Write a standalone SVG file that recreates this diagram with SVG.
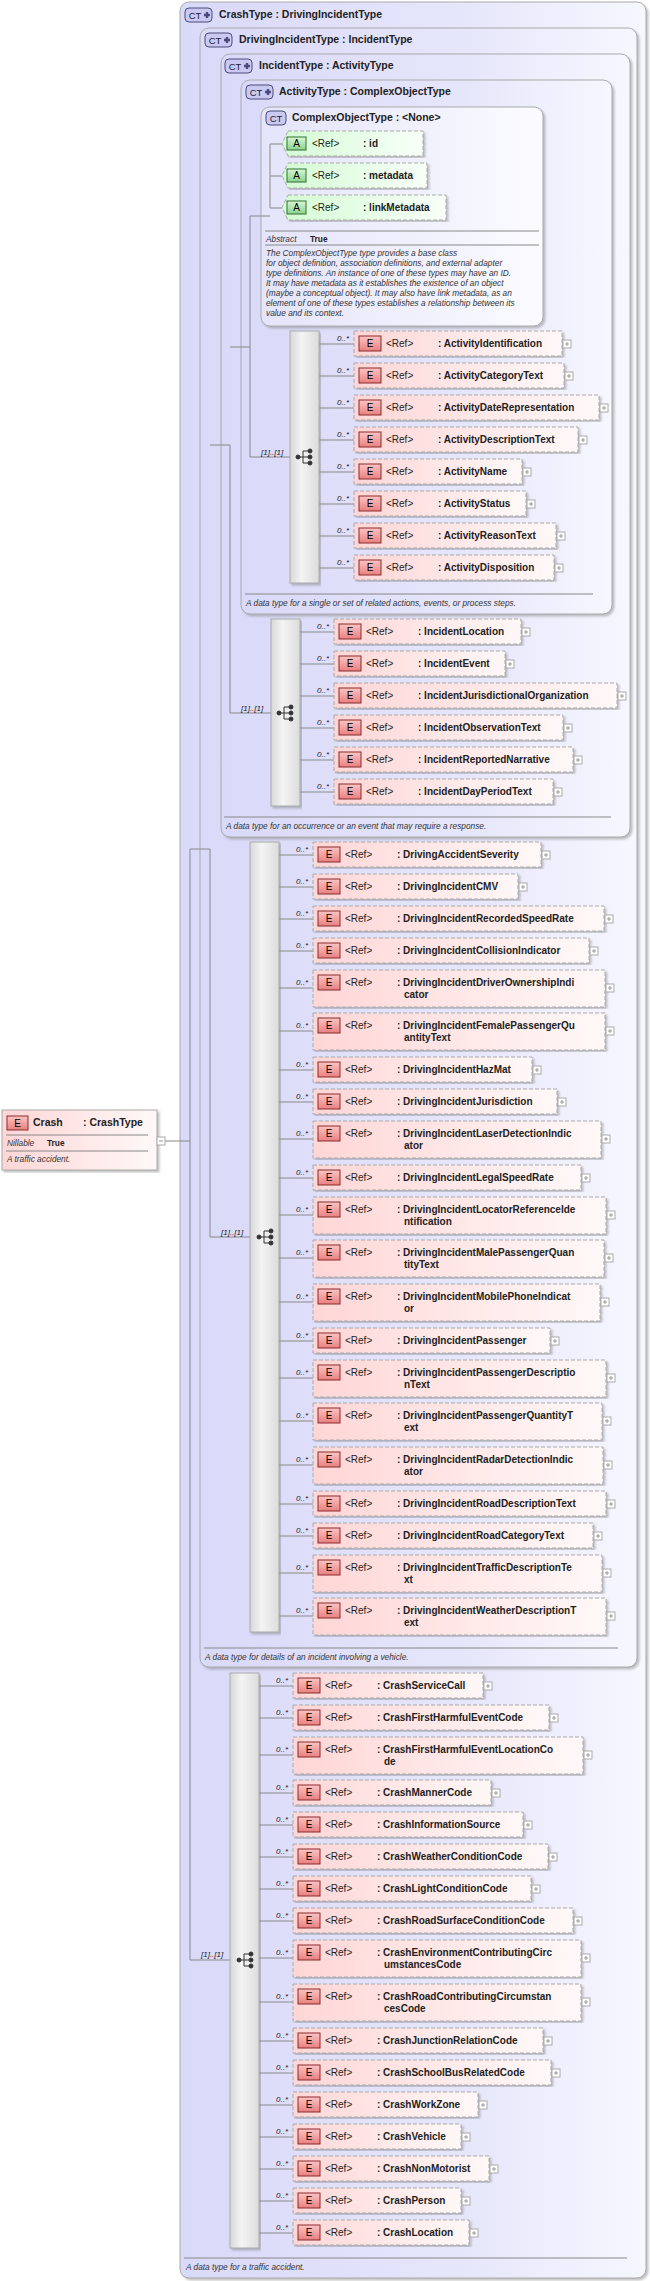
<svg xmlns="http://www.w3.org/2000/svg" width="650" height="2281" viewBox="0 0 650 2281">
<defs>
<style>
text{font-family:"Liberation Sans",Arial,sans-serif;fill:#222}
.ti{font-size:10.5px;font-weight:bold}
.r{font-size:10px}
.n{font-size:10px;font-weight:bold}
.m{font-size:8px;font-style:italic}
.d{font-size:8.3px;font-style:italic;fill:#333}
.el{font-size:10px;text-anchor:middle;fill:#000}
.cti{font-size:9.5px;text-anchor:middle;fill:#223}
.eb{fill:url(#pk);stroke:#aaa;stroke-dasharray:4,2;filter:url(#sh)}
.ab{fill:url(#gr);stroke:#aaa;stroke-dasharray:4,2;filter:url(#sh)}
.ei{fill:url(#eig);stroke:#8a2a2a}
.ai{fill:url(#aig);stroke:#2f6f2f}
.pb{fill:#fff;stroke:#aaa}
.ct{fill:#c9c9f2;stroke:#4a4a7a}
.bx{fill:url(#lv);stroke:#aaa;filter:url(#sh)}
.sq{fill:url(#sg);stroke:#aaa;filter:url(#sh)}
.ln{fill:none;stroke:#888;stroke-width:1}
.sep{stroke:#888;stroke-width:1}
</style>
<linearGradient id="lv" x1="0" x2="1" y1="0" y2="0"><stop offset="0" stop-color="#d9d9f9"/><stop offset="0.6" stop-color="#e6e6fb"/><stop offset="1" stop-color="#f7f7ff"/></linearGradient>
<linearGradient id="lv2" x1="0" x2="1" y1="0" y2="0"><stop offset="0" stop-color="#e4e4fb"/><stop offset="1" stop-color="#fbfbff"/></linearGradient>
<linearGradient id="pk" x1="0" x2="1" y1="0" y2="0"><stop offset="0" stop-color="#ffd6d6"/><stop offset="1" stop-color="#fff8f8"/></linearGradient>
<linearGradient id="gr" x1="0" x2="1" y1="0" y2="0"><stop offset="0" stop-color="#d4fcd4"/><stop offset="1" stop-color="#f8fff8"/></linearGradient>
<linearGradient id="eig" x1="0" x2="0" y1="0" y2="1"><stop offset="0" stop-color="#fbc4c4"/><stop offset="1" stop-color="#e88080"/></linearGradient>
<linearGradient id="aig" x1="0" x2="0" y1="0" y2="1"><stop offset="0" stop-color="#d8f8d8"/><stop offset="1" stop-color="#8fd08f"/></linearGradient>
<linearGradient id="sg" x1="0" x2="1" y1="0" y2="0"><stop offset="0" stop-color="#d8d8d8"/><stop offset="0.4" stop-color="#f4f4f4"/><stop offset="1" stop-color="#dcdcdc"/></linearGradient>
<filter id="sh" x="-5%" y="-5%" width="110%" height="110%"><feDropShadow dx="2" dy="2" stdDeviation="1" flood-color="#777" flood-opacity="0.45"/></filter>
<g id="seqi" fill="#333" stroke="#333" stroke-width="1"><circle cx="2" cy="0" r="2"/><path d="M2 0H7M7 -6V6M7 -6H13M7 0H13M7 6H13" fill="none"/><circle cx="14" cy="-6" r="2"/><circle cx="14" cy="0" r="2"/><circle cx="14" cy="6" r="2"/></g>
<g id="plus"><rect class="pb" x="0" y="0" width="8" height="8"/><path d="M2 4H6M4 2V6" stroke="#999" fill="none"/></g>
<g id="ctp"><rect class="ct" x="0" y="0" width="27" height="14" rx="4"/><text class="cti" x="10" y="11">CT</text><path d="M19 7H25M22 4V10" stroke="#4a4a7a" stroke-width="2.4"/></g>
</defs>
<rect width="650" height="2281" fill="#fff"/>

<g id="CrashType">
<rect class="bx" x="180" y="2" width="466" height="2276" rx="9"/>
<use href="#ctp" x="185" y="8"/>
<text class="ti" x="219" y="18">CrashType : DrivingIncidentType</text>
<line class="sep" x1="184" y1="2258" x2="627" y2="2258"/>
<text class="d" x="186" y="2270">A data type for a traffic accident.</text>
</g>
<g id="DrivingIncidentType">
<rect class="bx" x="200" y="28" width="437" height="1639" rx="9"/>
<use href="#ctp" x="205" y="33"/>
<text class="ti" x="239" y="43">DrivingIncidentType : IncidentType</text>
<line class="sep" x1="204" y1="1648" x2="618" y2="1648"/>
<text class="d" x="205" y="1660">A data type for details of an incident involving a vehicle.</text>
</g>
<g id="IncidentType">
<rect class="bx" x="221" y="54" width="409" height="783" rx="9"/>
<use href="#ctp" x="225" y="59"/>
<text class="ti" x="259" y="69">IncidentType : ActivityType</text>
<line class="sep" x1="224" y1="817" x2="611" y2="817"/>
<text class="d" x="226" y="829">A data type for an occurrence or an event that may require a response.</text>
</g>
<g id="ActivityType">
<rect class="bx" x="241" y="80" width="371" height="534" rx="9"/>
<use href="#ctp" x="246" y="85"/>
<text class="ti" x="279" y="95">ActivityType : ComplexObjectType</text>
<line class="sep" x1="245" y1="594" x2="593" y2="594"/>
<text class="d" x="246" y="606">A data type for a single or set of related actions, events, or process steps.</text>
</g>
<g id="ComplexObjectType">
<rect x="261" y="107" width="282" height="219" rx="9" fill="url(#lv2)" stroke="#aaa" filter="url(#sh)"/>
<rect class="ct" x="266" y="111" width="20" height="14" rx="4"/><text class="cti" x="276" y="122">CT</text>
<text class="ti" x="292" y="121">ComplexObjectType : &lt;None&gt;</text>
<line class="sep" x1="265" y1="231" x2="539" y2="231"/>
<text class="d" x="266" y="242">Abstract</text><text x="310" y="242" style="font-size:8.3px;font-weight:bold">True</text>
<line class="sep" x1="265" y1="245" x2="539" y2="245"/>
<text class="d" x="266" y="256">The ComplexObjectType type provides a base class</text>
<text class="d" x="266" y="266">for object definition, association definitions, and external adapter</text>
<text class="d" x="266" y="276">type definitions. An instance of one of these types may have an ID.</text>
<text class="d" x="266" y="286">It may have metadata as it establishes the existence of an object</text>
<text class="d" x="266" y="296">(maybe a conceptual object). It may also have link metadata, as an</text>
<text class="d" x="266" y="306">element of one of these types establishes a relationship between its</text>
<text class="d" x="266" y="316">value and its context.</text>
</g>
<g id="attr-id"><path class="ab" d="M288 131H423V156H288L282 143.5Z"/><rect class="ai" x="287" y="137" width="19" height="13"/><text class="el" x="296.5" y="147">A</text><text class="r" x="312" y="147">&lt;Ref&gt;</text><text class="n" x="363" y="147">: id</text></g>
<g id="attr-metadata"><path class="ab" d="M288 163H427V188H288L282 175.5Z"/><rect class="ai" x="287" y="169" width="19" height="13"/><text class="el" x="296.5" y="179">A</text><text class="r" x="312" y="179">&lt;Ref&gt;</text><text class="n" x="363" y="179">: metadata</text></g>
<g id="attr-linkMetadata"><path class="ab" d="M288 195H446V220H288L282 207.5Z"/><rect class="ai" x="287" y="201" width="19" height="13"/><text class="el" x="296.5" y="211">A</text><text class="r" x="312" y="211">&lt;Ref&gt;</text><text class="n" x="363" y="211">: linkMetadata</text></g>

<g id="connectors" class="ln">
<path class="ln" d="M165 1141H190M190 849V1960H230M190 849H210V1237H250M210 445H230V713H271M230 347H250M250 216V457H290M250 216H270M270 144V208M270 144H282M270 176H282M270 208H282"/>
<path class="ln" d="M319 344H354M319 376H354M319 408H354M319 440H354M319 472H354M319 504H354M319 536H354M319 568H354"/>
<path class="ln" d="M300 632H334M300 664H334M300 696H334M300 728H334M300 760H334M300 792H334"/>
<path class="ln" d="M279 855H313M279 887H313M279 919H313M279 951H313M279 988H313M279 1031H313M279 1070H313M279 1102H313M279 1139H313M279 1178H313M279 1215H313M279 1258H313M279 1302H313M279 1341H313M279 1378H313M279 1421H313M279 1465H313M279 1504H313M279 1536H313M279 1573H313M279 1616H313"/>
<path class="ln" d="M259 1686H293M259 1718H293M259 1755H293M259 1793H293M259 1825H293M259 1857H293M259 1889H293M259 1921H293M259 1958H293M259 2002H293M259 2041H293M259 2073H293M259 2105H293M259 2137H293M259 2169H293M259 2201H293M259 2233H293"/>
</g>

<g id="Crash">
<rect x="2" y="1110" width="155" height="60" fill="url(#pk)" stroke="#aaa" filter="url(#sh)"/>
<rect class="ei" x="7" y="1116" width="21" height="14"/><text class="el" x="17.5" y="1127">E</text>
<text class="n" x="33" y="1126" style="font-size:10.5px">Crash</text><text class="n" x="83" y="1126" style="font-size:10.5px">: CrashType</text>
<line class="sep" x1="6" y1="1135" x2="148" y2="1135"/>
<text class="d" x="7" y="1146">Nillable</text><text x="47" y="1146" style="font-size:8.3px;font-weight:bold">True</text>
<line class="sep" x1="6" y1="1151" x2="148" y2="1151"/>
<text class="d" x="7" y="1162">A traffic accident.</text>
<rect class="pb" x="157" y="1137" width="8" height="8"/><path d="M159 1141H163" stroke="#999"/>
</g>

<g id="seq-activity"><rect class="sq" x="290" y="331" width="29" height="252"/><use href="#seqi" x="296" y="457"/><text class="m" x="261" y="455">[1]..[1]</text></g>
<g id="seq-incident"><rect class="sq" x="271" y="619" width="29" height="187"/><use href="#seqi" x="277" y="713"/><text class="m" x="241" y="711">[1]..[1]</text></g>
<g id="seq-driving"><rect class="sq" x="250" y="842" width="29" height="790"/><use href="#seqi" x="257" y="1237"/><text class="m" x="221" y="1235">[1]..[1]</text></g>
<g id="seq-crash"><rect class="sq" x="230" y="1673" width="29" height="575"/><use href="#seqi" x="237" y="1960"/><text class="m" x="201" y="1957">[1]..[1]</text></g>

<!-- Activity elements -->
<g id="ActivityIdentification"><text class="m" x="337" y="341">0..*</text><rect class="eb" x="354" y="331" width="208" height="25"/><rect class="ei" x="359" y="336" width="22" height="15"/><text class="el" x="370" y="347">E</text><text class="r" x="386" y="347">&lt;Ref&gt;</text><text class="n" x="438" y="347">: ActivityIdentification</text><use href="#plus" x="563" y="340"/></g>
<g id="ActivityCategoryText"><text class="m" x="337" y="373">0..*</text><rect class="eb" x="354" y="363" width="210" height="25"/><rect class="ei" x="359" y="368" width="22" height="15"/><text class="el" x="370" y="379">E</text><text class="r" x="386" y="379">&lt;Ref&gt;</text><text class="n" x="438" y="379">: ActivityCategoryText</text><use href="#plus" x="565" y="372"/></g>
<g id="ActivityDateRepresentation"><text class="m" x="337" y="405">0..*</text><rect class="eb" x="354" y="395" width="245" height="25"/><rect class="ei" x="359" y="400" width="22" height="15"/><text class="el" x="370" y="411">E</text><text class="r" x="386" y="411">&lt;Ref&gt;</text><text class="n" x="438" y="411">: ActivityDateRepresentation</text><use href="#plus" x="600" y="404"/></g>
<g id="ActivityDescriptionText"><text class="m" x="337" y="437">0..*</text><rect class="eb" x="354" y="427" width="224" height="25"/><rect class="ei" x="359" y="432" width="22" height="15"/><text class="el" x="370" y="443">E</text><text class="r" x="386" y="443">&lt;Ref&gt;</text><text class="n" x="438" y="443">: ActivityDescriptionText</text><use href="#plus" x="579" y="436"/></g>
<g id="ActivityName"><text class="m" x="337" y="469">0..*</text><rect class="eb" x="354" y="459" width="168" height="25"/><rect class="ei" x="359" y="464" width="22" height="15"/><text class="el" x="370" y="475">E</text><text class="r" x="386" y="475">&lt;Ref&gt;</text><text class="n" x="438" y="475">: ActivityName</text><use href="#plus" x="523" y="468"/></g>
<g id="ActivityStatus"><text class="m" x="337" y="501">0..*</text><rect class="eb" x="354" y="491" width="172" height="25"/><rect class="ei" x="359" y="496" width="22" height="15"/><text class="el" x="370" y="507">E</text><text class="r" x="386" y="507">&lt;Ref&gt;</text><text class="n" x="438" y="507">: ActivityStatus</text><use href="#plus" x="527" y="500"/></g>
<g id="ActivityReasonText"><text class="m" x="337" y="533">0..*</text><rect class="eb" x="354" y="523" width="202" height="25"/><rect class="ei" x="359" y="528" width="22" height="15"/><text class="el" x="370" y="539">E</text><text class="r" x="386" y="539">&lt;Ref&gt;</text><text class="n" x="438" y="539">: ActivityReasonText</text><use href="#plus" x="557" y="532"/></g>
<g id="ActivityDisposition"><text class="m" x="337" y="565">0..*</text><rect class="eb" x="354" y="555" width="200" height="25"/><rect class="ei" x="359" y="560" width="22" height="15"/><text class="el" x="370" y="571">E</text><text class="r" x="386" y="571">&lt;Ref&gt;</text><text class="n" x="438" y="571">: ActivityDisposition</text><use href="#plus" x="555" y="564"/></g>

<!-- Incident elements -->
<g id="IncidentLocation"><text class="m" x="317" y="629">0..*</text><rect class="eb" x="334" y="619" width="187" height="25"/><rect class="ei" x="339" y="624" width="22" height="15"/><text class="el" x="350" y="635">E</text><text class="r" x="366" y="635">&lt;Ref&gt;</text><text class="n" x="418" y="635">: IncidentLocation</text><use href="#plus" x="522" y="628"/></g>
<g id="IncidentEvent"><text class="m" x="317" y="661">0..*</text><rect class="eb" x="334" y="651" width="171" height="25"/><rect class="ei" x="339" y="656" width="22" height="15"/><text class="el" x="350" y="667">E</text><text class="r" x="366" y="667">&lt;Ref&gt;</text><text class="n" x="418" y="667">: IncidentEvent</text><use href="#plus" x="506" y="660"/></g>
<g id="IncidentJurisdictionalOrganization"><text class="m" x="317" y="693">0..*</text><rect class="eb" x="334" y="683" width="283" height="25"/><rect class="ei" x="339" y="688" width="22" height="15"/><text class="el" x="350" y="699">E</text><text class="r" x="366" y="699">&lt;Ref&gt;</text><text class="n" x="418" y="699">: IncidentJurisdictionalOrganization</text><use href="#plus" x="618" y="692"/></g>
<g id="IncidentObservationText"><text class="m" x="317" y="725">0..*</text><rect class="eb" x="334" y="715" width="229" height="25"/><rect class="ei" x="339" y="720" width="22" height="15"/><text class="el" x="350" y="731">E</text><text class="r" x="366" y="731">&lt;Ref&gt;</text><text class="n" x="418" y="731">: IncidentObservationText</text><use href="#plus" x="564" y="724"/></g>
<g id="IncidentReportedNarrative"><text class="m" x="317" y="757">0..*</text><rect class="eb" x="334" y="747" width="239" height="25"/><rect class="ei" x="339" y="752" width="22" height="15"/><text class="el" x="350" y="763">E</text><text class="r" x="366" y="763">&lt;Ref&gt;</text><text class="n" x="418" y="763">: IncidentReportedNarrative</text><use href="#plus" x="574" y="756"/></g>
<g id="IncidentDayPeriodText"><text class="m" x="317" y="789">0..*</text><rect class="eb" x="334" y="779" width="219" height="25"/><rect class="ei" x="339" y="784" width="22" height="15"/><text class="el" x="350" y="795">E</text><text class="r" x="366" y="795">&lt;Ref&gt;</text><text class="n" x="418" y="795">: IncidentDayPeriodText</text><use href="#plus" x="554" y="788"/></g>

<!-- Driving elements -->
<g id="DrivingAccidentSeverity"><text class="m" x="296" y="852">0..*</text><rect class="eb" x="313" y="842" width="228" height="25"/><rect class="ei" x="318" y="847" width="22" height="15"/><text class="el" x="329" y="858">E</text><text class="r" x="345" y="858">&lt;Ref&gt;</text><text class="n" x="397" y="858">: DrivingAccidentSeverity</text><use href="#plus" x="542" y="851"/></g>
<g id="DrivingIncidentCMV"><text class="m" x="296" y="884">0..*</text><rect class="eb" x="313" y="874" width="205" height="25"/><rect class="ei" x="318" y="879" width="22" height="15"/><text class="el" x="329" y="890">E</text><text class="r" x="345" y="890">&lt;Ref&gt;</text><text class="n" x="397" y="890">: DrivingIncidentCMV</text><use href="#plus" x="519" y="883"/></g>
<g id="DrivingIncidentRecordedSpeedRate"><text class="m" x="296" y="916">0..*</text><rect class="eb" x="313" y="906" width="291" height="25"/><rect class="ei" x="318" y="911" width="22" height="15"/><text class="el" x="329" y="922">E</text><text class="r" x="345" y="922">&lt;Ref&gt;</text><text class="n" x="397" y="922">: DrivingIncidentRecordedSpeedRate</text><use href="#plus" x="605" y="915"/></g>
<g id="DrivingIncidentCollisionIndicator"><text class="m" x="296" y="948">0..*</text><rect class="eb" x="313" y="938" width="276" height="25"/><rect class="ei" x="318" y="943" width="22" height="15"/><text class="el" x="329" y="954">E</text><text class="r" x="345" y="954">&lt;Ref&gt;</text><text class="n" x="397" y="954">: DrivingIncidentCollisionIndicator</text><use href="#plus" x="590" y="947"/></g>
<g id="DrivingIncidentDriverOwnershipIndicator"><text class="m" x="296" y="985">0..*</text><rect class="eb" x="313" y="970" width="292" height="37"/><rect class="ei" x="318" y="975" width="22" height="15"/><text class="el" x="329" y="986">E</text><text class="r" x="345" y="986">&lt;Ref&gt;</text><text class="n" x="397" y="986">: DrivingIncidentDriverOwnershipIndi</text><text class="n" x="404" y="998">cator</text><use href="#plus" x="606" y="984"/></g>
<g id="DrivingIncidentFemalePassengerQuantityText"><text class="m" x="296" y="1028">0..*</text><rect class="eb" x="313" y="1013" width="292" height="37"/><rect class="ei" x="318" y="1018" width="22" height="15"/><text class="el" x="329" y="1029">E</text><text class="r" x="345" y="1029">&lt;Ref&gt;</text><text class="n" x="397" y="1029">: DrivingIncidentFemalePassengerQu</text><text class="n" x="404" y="1041">antityText</text><use href="#plus" x="606" y="1027"/></g>
<g id="DrivingIncidentHazMat"><text class="m" x="296" y="1067">0..*</text><rect class="eb" x="313" y="1057" width="219" height="25"/><rect class="ei" x="318" y="1062" width="22" height="15"/><text class="el" x="329" y="1073">E</text><text class="r" x="345" y="1073">&lt;Ref&gt;</text><text class="n" x="397" y="1073">: DrivingIncidentHazMat</text><use href="#plus" x="533" y="1066"/></g>
<g id="DrivingIncidentJurisdiction"><text class="m" x="296" y="1099">0..*</text><rect class="eb" x="313" y="1089" width="244" height="25"/><rect class="ei" x="318" y="1094" width="22" height="15"/><text class="el" x="329" y="1105">E</text><text class="r" x="345" y="1105">&lt;Ref&gt;</text><text class="n" x="397" y="1105">: DrivingIncidentJurisdiction</text><use href="#plus" x="558" y="1098"/></g>
<g id="DrivingIncidentLaserDetectionIndicator"><text class="m" x="296" y="1136">0..*</text><rect class="eb" x="313" y="1121" width="288" height="37"/><rect class="ei" x="318" y="1126" width="22" height="15"/><text class="el" x="329" y="1137">E</text><text class="r" x="345" y="1137">&lt;Ref&gt;</text><text class="n" x="397" y="1137">: DrivingIncidentLaserDetectionIndic</text><text class="n" x="404" y="1149">ator</text><use href="#plus" x="602" y="1135"/></g>
<g id="DrivingIncidentLegalSpeedRate"><text class="m" x="296" y="1175">0..*</text><rect class="eb" x="313" y="1165" width="268" height="25"/><rect class="ei" x="318" y="1170" width="22" height="15"/><text class="el" x="329" y="1181">E</text><text class="r" x="345" y="1181">&lt;Ref&gt;</text><text class="n" x="397" y="1181">: DrivingIncidentLegalSpeedRate</text><use href="#plus" x="582" y="1174"/></g>
<g id="DrivingIncidentLocatorReferenceIdentification"><text class="m" x="296" y="1212">0..*</text><rect class="eb" x="313" y="1197" width="293" height="37"/><rect class="ei" x="318" y="1202" width="22" height="15"/><text class="el" x="329" y="1213">E</text><text class="r" x="345" y="1213">&lt;Ref&gt;</text><text class="n" x="397" y="1213">: DrivingIncidentLocatorReferenceIde</text><text class="n" x="404" y="1225">ntification</text><use href="#plus" x="607" y="1211"/></g>
<g id="DrivingIncidentMalePassengerQuantityText"><text class="m" x="296" y="1255">0..*</text><rect class="eb" x="313" y="1240" width="291" height="37"/><rect class="ei" x="318" y="1245" width="22" height="15"/><text class="el" x="329" y="1256">E</text><text class="r" x="345" y="1256">&lt;Ref&gt;</text><text class="n" x="397" y="1256">: DrivingIncidentMalePassengerQuan</text><text class="n" x="404" y="1268">tityText</text><use href="#plus" x="605" y="1254"/></g>
<g id="DrivingIncidentMobilePhoneIndicator"><text class="m" x="296" y="1299">0..*</text><rect class="eb" x="313" y="1284" width="287" height="37"/><rect class="ei" x="318" y="1289" width="22" height="15"/><text class="el" x="329" y="1300">E</text><text class="r" x="345" y="1300">&lt;Ref&gt;</text><text class="n" x="397" y="1300">: DrivingIncidentMobilePhoneIndicat</text><text class="n" x="404" y="1312">or</text><use href="#plus" x="601" y="1298"/></g>
<g id="DrivingIncidentPassenger"><text class="m" x="296" y="1338">0..*</text><rect class="eb" x="313" y="1328" width="237" height="25"/><rect class="ei" x="318" y="1333" width="22" height="15"/><text class="el" x="329" y="1344">E</text><text class="r" x="345" y="1344">&lt;Ref&gt;</text><text class="n" x="397" y="1344">: DrivingIncidentPassenger</text><use href="#plus" x="551" y="1337"/></g>
<g id="DrivingIncidentPassengerDescriptionText"><text class="m" x="296" y="1375">0..*</text><rect class="eb" x="313" y="1360" width="293" height="37"/><rect class="ei" x="318" y="1365" width="22" height="15"/><text class="el" x="329" y="1376">E</text><text class="r" x="345" y="1376">&lt;Ref&gt;</text><text class="n" x="397" y="1376">: DrivingIncidentPassengerDescriptio</text><text class="n" x="404" y="1388">nText</text><use href="#plus" x="607" y="1374"/></g>
<g id="DrivingIncidentPassengerQuantityText"><text class="m" x="296" y="1418">0..*</text><rect class="eb" x="313" y="1403" width="289" height="37"/><rect class="ei" x="318" y="1408" width="22" height="15"/><text class="el" x="329" y="1419">E</text><text class="r" x="345" y="1419">&lt;Ref&gt;</text><text class="n" x="397" y="1419">: DrivingIncidentPassengerQuantityT</text><text class="n" x="404" y="1431">ext</text><use href="#plus" x="603" y="1417"/></g>
<g id="DrivingIncidentRadarDetectionIndicator"><text class="m" x="296" y="1462">0..*</text><rect class="eb" x="313" y="1447" width="290" height="37"/><rect class="ei" x="318" y="1452" width="22" height="15"/><text class="el" x="329" y="1463">E</text><text class="r" x="345" y="1463">&lt;Ref&gt;</text><text class="n" x="397" y="1463">: DrivingIncidentRadarDetectionIndic</text><text class="n" x="404" y="1475">ator</text><use href="#plus" x="604" y="1461"/></g>
<g id="DrivingIncidentRoadDescriptionText"><text class="m" x="296" y="1501">0..*</text><rect class="eb" x="313" y="1491" width="293" height="25"/><rect class="ei" x="318" y="1496" width="22" height="15"/><text class="el" x="329" y="1507">E</text><text class="r" x="345" y="1507">&lt;Ref&gt;</text><text class="n" x="397" y="1507">: DrivingIncidentRoadDescriptionText</text><use href="#plus" x="607" y="1500"/></g>
<g id="DrivingIncidentRoadCategoryText"><text class="m" x="296" y="1533">0..*</text><rect class="eb" x="313" y="1523" width="280" height="25"/><rect class="ei" x="318" y="1528" width="22" height="15"/><text class="el" x="329" y="1539">E</text><text class="r" x="345" y="1539">&lt;Ref&gt;</text><text class="n" x="397" y="1539">: DrivingIncidentRoadCategoryText</text><use href="#plus" x="594" y="1532"/></g>
<g id="DrivingIncidentTrafficDescriptionText"><text class="m" x="296" y="1570">0..*</text><rect class="eb" x="313" y="1555" width="289" height="37"/><rect class="ei" x="318" y="1560" width="22" height="15"/><text class="el" x="329" y="1571">E</text><text class="r" x="345" y="1571">&lt;Ref&gt;</text><text class="n" x="397" y="1571">: DrivingIncidentTrafficDescriptionTe</text><text class="n" x="404" y="1583">xt</text><use href="#plus" x="603" y="1569"/></g>
<g id="DrivingIncidentWeatherDescriptionText"><text class="m" x="296" y="1613">0..*</text><rect class="eb" x="313" y="1598" width="293" height="37"/><rect class="ei" x="318" y="1603" width="22" height="15"/><text class="el" x="329" y="1614">E</text><text class="r" x="345" y="1614">&lt;Ref&gt;</text><text class="n" x="397" y="1614">: DrivingIncidentWeatherDescriptionT</text><text class="n" x="404" y="1626">ext</text><use href="#plus" x="607" y="1612"/></g>

<!-- Crash elements -->
<g id="CrashServiceCall"><text class="m" x="276" y="1683">0..*</text><rect class="eb" x="293" y="1673" width="190" height="25"/><rect class="ei" x="298" y="1678" width="22" height="15"/><text class="el" x="309" y="1689">E</text><text class="r" x="325" y="1689">&lt;Ref&gt;</text><text class="n" x="377" y="1689">: CrashServiceCall</text><use href="#plus" x="484" y="1682"/></g>
<g id="CrashFirstHarmfulEventCode"><text class="m" x="276" y="1715">0..*</text><rect class="eb" x="293" y="1705" width="256" height="25"/><rect class="ei" x="298" y="1710" width="22" height="15"/><text class="el" x="309" y="1721">E</text><text class="r" x="325" y="1721">&lt;Ref&gt;</text><text class="n" x="377" y="1721">: CrashFirstHarmfulEventCode</text><use href="#plus" x="550" y="1714"/></g>
<g id="CrashFirstHarmfulEventLocationCode"><text class="m" x="276" y="1752">0..*</text><rect class="eb" x="293" y="1737" width="290" height="37"/><rect class="ei" x="298" y="1742" width="22" height="15"/><text class="el" x="309" y="1753">E</text><text class="r" x="325" y="1753">&lt;Ref&gt;</text><text class="n" x="377" y="1753">: CrashFirstHarmfulEventLocationCo</text><text class="n" x="384" y="1765">de</text><use href="#plus" x="584" y="1751"/></g>
<g id="CrashMannerCode"><text class="m" x="276" y="1790">0..*</text><rect class="eb" x="293" y="1780" width="198" height="25"/><rect class="ei" x="298" y="1785" width="22" height="15"/><text class="el" x="309" y="1796">E</text><text class="r" x="325" y="1796">&lt;Ref&gt;</text><text class="n" x="377" y="1796">: CrashMannerCode</text><use href="#plus" x="492" y="1789"/></g>
<g id="CrashInformationSource"><text class="m" x="276" y="1822">0..*</text><rect class="eb" x="293" y="1812" width="230" height="25"/><rect class="ei" x="298" y="1817" width="22" height="15"/><text class="el" x="309" y="1828">E</text><text class="r" x="325" y="1828">&lt;Ref&gt;</text><text class="n" x="377" y="1828">: CrashInformationSource</text><use href="#plus" x="524" y="1821"/></g>
<g id="CrashWeatherConditionCode"><text class="m" x="276" y="1854">0..*</text><rect class="eb" x="293" y="1844" width="255" height="25"/><rect class="ei" x="298" y="1849" width="22" height="15"/><text class="el" x="309" y="1860">E</text><text class="r" x="325" y="1860">&lt;Ref&gt;</text><text class="n" x="377" y="1860">: CrashWeatherConditionCode</text><use href="#plus" x="549" y="1853"/></g>
<g id="CrashLightConditionCode"><text class="m" x="276" y="1886">0..*</text><rect class="eb" x="293" y="1876" width="238" height="25"/><rect class="ei" x="298" y="1881" width="22" height="15"/><text class="el" x="309" y="1892">E</text><text class="r" x="325" y="1892">&lt;Ref&gt;</text><text class="n" x="377" y="1892">: CrashLightConditionCode</text><use href="#plus" x="532" y="1885"/></g>
<g id="CrashRoadSurfaceConditionCode"><text class="m" x="276" y="1918">0..*</text><rect class="eb" x="293" y="1908" width="280" height="25"/><rect class="ei" x="298" y="1913" width="22" height="15"/><text class="el" x="309" y="1924">E</text><text class="r" x="325" y="1924">&lt;Ref&gt;</text><text class="n" x="377" y="1924">: CrashRoadSurfaceConditionCode</text><use href="#plus" x="574" y="1917"/></g>
<g id="CrashEnvironmentContributingCircumstancesCode"><text class="m" x="276" y="1955">0..*</text><rect class="eb" x="293" y="1940" width="288" height="37"/><rect class="ei" x="298" y="1945" width="22" height="15"/><text class="el" x="309" y="1956">E</text><text class="r" x="325" y="1956">&lt;Ref&gt;</text><text class="n" x="377" y="1956">: CrashEnvironmentContributingCirc</text><text class="n" x="384" y="1968">umstancesCode</text><use href="#plus" x="582" y="1954"/></g>
<g id="CrashRoadContributingCircumstancesCode"><text class="m" x="276" y="1999">0..*</text><rect class="eb" x="293" y="1984" width="288" height="37"/><rect class="ei" x="298" y="1989" width="22" height="15"/><text class="el" x="309" y="2000">E</text><text class="r" x="325" y="2000">&lt;Ref&gt;</text><text class="n" x="377" y="2000">: CrashRoadContributingCircumstan</text><text class="n" x="384" y="2012">cesCode</text><use href="#plus" x="582" y="1998"/></g>
<g id="CrashJunctionRelationCode"><text class="m" x="276" y="2038">0..*</text><rect class="eb" x="293" y="2028" width="250" height="25"/><rect class="ei" x="298" y="2033" width="22" height="15"/><text class="el" x="309" y="2044">E</text><text class="r" x="325" y="2044">&lt;Ref&gt;</text><text class="n" x="377" y="2044">: CrashJunctionRelationCode</text><use href="#plus" x="544" y="2037"/></g>
<g id="CrashSchoolBusRelatedCode"><text class="m" x="276" y="2070">0..*</text><rect class="eb" x="293" y="2060" width="258" height="25"/><rect class="ei" x="298" y="2065" width="22" height="15"/><text class="el" x="309" y="2076">E</text><text class="r" x="325" y="2076">&lt;Ref&gt;</text><text class="n" x="377" y="2076">: CrashSchoolBusRelatedCode</text><use href="#plus" x="552" y="2069"/></g>
<g id="CrashWorkZone"><text class="m" x="276" y="2102">0..*</text><rect class="eb" x="293" y="2092" width="185" height="25"/><rect class="ei" x="298" y="2097" width="22" height="15"/><text class="el" x="309" y="2108">E</text><text class="r" x="325" y="2108">&lt;Ref&gt;</text><text class="n" x="377" y="2108">: CrashWorkZone</text><use href="#plus" x="479" y="2101"/></g>
<g id="CrashVehicle"><text class="m" x="276" y="2134">0..*</text><rect class="eb" x="293" y="2124" width="168" height="25"/><rect class="ei" x="298" y="2129" width="22" height="15"/><text class="el" x="309" y="2140">E</text><text class="r" x="325" y="2140">&lt;Ref&gt;</text><text class="n" x="377" y="2140">: CrashVehicle</text><use href="#plus" x="462" y="2133"/></g>
<g id="CrashNonMotorist"><text class="m" x="276" y="2166">0..*</text><rect class="eb" x="293" y="2156" width="196" height="25"/><rect class="ei" x="298" y="2161" width="22" height="15"/><text class="el" x="309" y="2172">E</text><text class="r" x="325" y="2172">&lt;Ref&gt;</text><text class="n" x="377" y="2172">: CrashNonMotorist</text><use href="#plus" x="490" y="2165"/></g>
<g id="CrashPerson"><text class="m" x="276" y="2198">0..*</text><rect class="eb" x="293" y="2188" width="168" height="25"/><rect class="ei" x="298" y="2193" width="22" height="15"/><text class="el" x="309" y="2204">E</text><text class="r" x="325" y="2204">&lt;Ref&gt;</text><text class="n" x="377" y="2204">: CrashPerson</text><use href="#plus" x="462" y="2197"/></g>
<g id="CrashLocation"><text class="m" x="276" y="2230">0..*</text><rect class="eb" x="293" y="2220" width="176" height="25"/><rect class="ei" x="298" y="2225" width="22" height="15"/><text class="el" x="309" y="2236">E</text><text class="r" x="325" y="2236">&lt;Ref&gt;</text><text class="n" x="377" y="2236">: CrashLocation</text><use href="#plus" x="470" y="2229"/></g>
</svg>
